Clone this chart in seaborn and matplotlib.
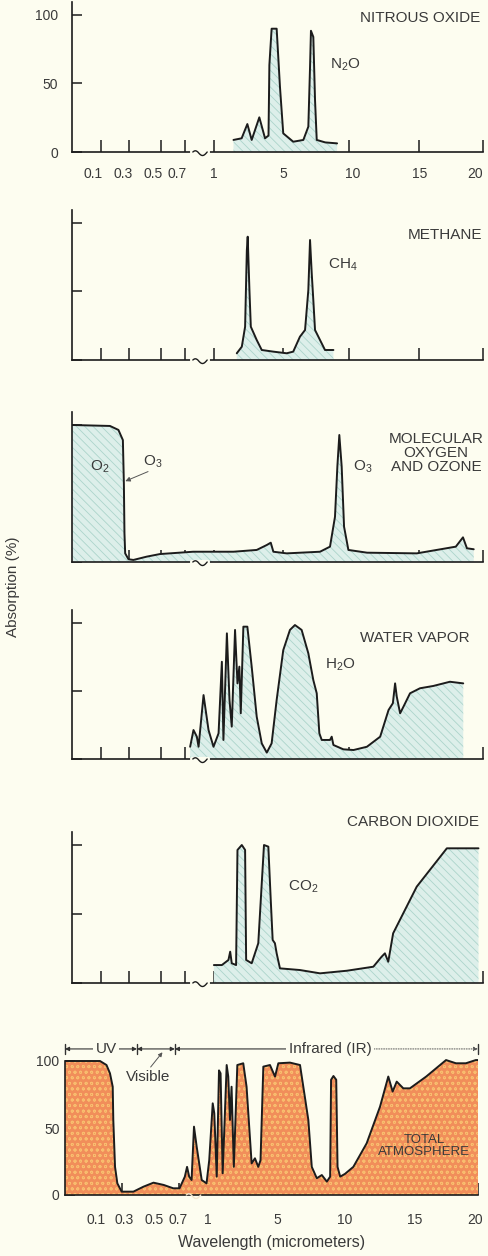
import numpy as np
import pandas as pd
import matplotlib
matplotlib.use("Agg")
import matplotlib.pyplot as plt
import matplotlib.transforms as mtransforms
import seaborn as sns

# ---------------- data (wavelength in micrometers, absorption in %) ----------------
n2o_wl = [2.13, 2.6, 2.93, 3.18, 3.62, 3.95, 4.15, 4.2, 4.33, 4.62, 4.81, 5.0, 5.76, 6.53,
          6.91, 7.04, 7.11, 7.29, 7.42, 7.55, 8.2, 9.1]
n2o_abs = [8.8, 10, 20.4, 8.8, 25.3, 10, 12, 63.5, 90, 90, 47.7, 13.6, 7.5, 8.8,
           18.5, 62, 88.5, 84, 38, 8.8, 7, 6.3]

ch4_wl = [2.32, 2.61, 2.80, 2.90, 2.95, 3.05, 3.13, 3.47, 3.76, 4.43, 5.26, 5.76, 6.27, 6.66,
          6.91, 7.04, 7.17, 7.29, 7.42, 7.8, 8.18, 8.82]
ch4_abs = [4.9, 9.7, 24.3, 80, 90, 51, 24.3, 14.6, 7.3, 6.1, 4.9, 6.1, 17, 21.9,
           51, 87.6, 63, 43.8, 21.9, 14.6, 7.3, 7.3]

o3_wl = [0.0, 0.165, 0.224, 0.255, 0.262, 0.266, 0.271, 0.294, 0.326, 0.411, 0.496, 0.783,
         2.13, 3.47, 4.05, 4.28, 4.43, 5.26, 7.8, 8.56, 8.94, 9.12, 9.27, 9.45, 9.63, 9.96,
         11.3, 14.86, 17.9, 18.46, 18.77, 19.3]
o3_abs = [100, 99.3, 96.4, 89, 57, 21, 6.3, 2, 1.5, 3.9, 5.8, 7.5,
          7.5, 8.8, 12.4, 14.1, 7.5, 6.3, 7.5, 11.2, 33, 69.6, 92.7, 69.6, 25.8, 8.8,
          6.8, 6.3, 11.2, 18, 10, 9.3]

h2o_wl = [0.752, 0.787, 0.822, 0.84, 0.892, 0.944, 0.996, 1.27, 1.46, 1.55, 1.75, 1.9, 2.03,
          2.22, 2.36, 2.47, 2.55, 2.7, 2.93, 3.18, 3.47, 3.76, 4.05, 4.33, 4.62, 5.0, 5.51,
          5.89, 6.4, 6.91, 7.29, 7.55, 7.75, 7.93, 8.56, 8.69, 8.82, 9.58, 10.33, 11.29,
          12.24, 12.84, 13.15, 13.31, 13.43, 13.67, 13.91, 14.38, 15.1, 16.14, 17.44, 18.48]
h2o_abs = [9, 21.3, 16.4, 9, 47, 21.3, 9, 18.9, 71.5, 14, 92.4, 43.4, 23.8,
           94.9, 55.6, 67.9, 33.6, 97.3, 97.3, 67.9, 31.1, 11.5, 4.7, 11.5, 43.4, 80, 94.9,
           98.5, 94.9, 77.7, 58, 48.3, 18.9, 14, 14, 16.4, 10.3, 7.1, 6.6, 9,
           16.4, 36, 41, 55.6, 45.8, 33.6, 38.5, 48.3, 52, 53.7, 56.8, 55.6]

co2_wl = [1.0, 1.46, 1.84, 1.94, 2.03, 2.28, 2.36, 2.61, 2.80, 2.86, 3.18, 3.56, 3.76, 3.89,
          4.14, 4.28, 4.39, 4.52, 4.62, 4.81, 6.27, 7.8, 9.85, 11.75, 12.34, 12.58, 12.82,
          13.17, 14.86, 17.2, 19.67]
co2_abs = [13, 13, 16.7, 22.7, 14.3, 13, 96.4, 100, 96.4, 16.7, 14.3, 28.8, 72.2, 100,
           98.8, 60, 31.2, 28.8, 21.5, 10.6, 9.4, 7, 8.9, 11.8, 19, 21.5, 15.4,
           36, 69.8, 97.6, 97.6]

tot_wl = [0.0, 0.145, 0.19, 0.214, 0.233, 0.237, 0.249, 0.265, 0.295, 0.37,
          0.434, 0.498, 0.58, 0.657, 0.71, 0.765, 0.788, 0.81, 0.835, 0.86,
          0.888, 0.94, 0.99, 1.1, 1.3, 1.39, 1.53, 1.66, 1.75, 1.87,
          2.1, 2.19, 2.29, 2.38, 2.51, 2.71, 3.05, 3.24, 3.53, 3.72,
          3.91, 4.04, 4.2, 4.58, 4.87, 5.08, 5.96, 6.72, 6.97, 7.35,
          7.61, 7.99, 8.37, 8.75, 9.0, 9.07, 9.25, 9.46, 9.56, 9.76,
          10.12, 10.71, 11.66, 12.61, 13.2, 13.51, 13.8, 14.27, 14.74, 15.98,
          17.52, 18.29, 19.06, 19.83, 20.0]
tot_abs = [100, 100, 97, 90.8, 80.8, 56, 21, 8.7, 2.5, 2.5,
           6.2, 9.2, 7.5, 5, 5, 13.7, 21, 13.7, 11.2, 51,
           36, 11.2, 8.7, 26, 68.4, 61, 13.7, 93, 90.8, 16.2,
           97, 88.4, 56, 80.8, 21, 97, 98.3, 80.8, 23.6, 27.4,
           21, 26, 95.8, 97, 88.4, 98.3, 98.8, 97, 80.8, 56,
           21, 12.5, 14.9, 10, 13.7, 86, 88.8, 86, 21, 13.7,
           15.8, 21, 38.6, 65.9, 88.4, 77.2, 84.6, 79.6, 79.6, 88.4,
           100.7, 98.3, 98.3, 100.7, 100.7]

tick_values = [0.1, 0.3, 0.5, 0.7, 1, 5, 10, 15, 20]
tick_labels = ["0.1", "0.3", "0.5", "0.7", "1", "5", "10", "15", "20"]
ytick_values = [0, 50, 100]
ytick_labels = ["0", "50", "100"]

# ---------------- piecewise axis scale (break between 0.7 and 1) ----------------
WL_KNOTS = np.array([0.0, 0.1, 0.3, 0.5, 0.7, 1.0, 5.0, 10.0, 15.0, 20.0])
POS_KNOTS = np.array([0.0, 0.069, 0.139, 0.215, 0.275, 0.345, 0.514, 0.674, 0.844, 1.0])


def _pl(x, xs, ys):
    x = np.asarray(x, dtype=float)
    y = np.interp(x, xs, ys)
    s0 = (ys[1] - ys[0]) / (xs[1] - xs[0])
    s1 = (ys[-1] - ys[-2]) / (xs[-1] - xs[-2])
    y = np.where(x < xs[0], ys[0] + (x - xs[0]) * s0, y)
    y = np.where(x > xs[-1], ys[-1] + (x - xs[-1]) * s1, y)
    return y


def fwd(x):
    return _pl(x, WL_KNOTS, POS_KNOTS)


def inv(p):
    return _pl(p, POS_KNOTS, WL_KNOTS)


# ---------------- style ----------------
sns.set_theme(style="white")
BG = "#fdfdf0"
TXT = "#3a3a3a"
LINE = "#1c1c1c"
plt.rcParams["font.family"] = ["Liberation Sans", "DejaVu Sans"]
plt.rcParams["mathtext.default"] = "regular"
plt.rcParams["hatch.linewidth"] = 0.6

FIG_W, FIG_H = 488, 1256
fig = plt.figure(figsize=(FIG_W / 100, FIG_H / 100), dpi=100, facecolor=BG)

TEAL = "#ddefea"
TEAL_H = "#acd4cb"
ORANGE = "#f18e5a"
ORANGE_H = "#f8bd6e"

# per-label horizontal nudges (pixels) to match the original lettering
top_label_shift = [-8, -6, -7, -8, 0, 0, 4, 1, -8]
bot_label_shift = [3, 2, 0, 0, 0, 0, 1, 1, -3]

panels = [
    dict(wl=n2o_wl, ab=n2o_abs, y0=152, left=72.3, width=410.4, ppu=1.37, xlab=True),
    dict(wl=ch4_wl, ab=ch4_abs, y0=360, left=72.3, width=410.4, ppu=1.37, xlab=False),
    dict(wl=o3_wl, ab=o3_abs, y0=562, left=72.3, width=410.4, ppu=1.37, xlab=False),
    dict(wl=h2o_wl, ab=h2o_abs, y0=759, left=72.3, width=410.4, ppu=1.36, xlab=False),
    dict(wl=co2_wl, ab=co2_abs, y0=983, left=72.3, width=410.4, ppu=1.38, xlab=False),
    dict(wl=tot_wl, ab=tot_abs, y0=1195, left=65, width=413, ppu=1.34, xlab=True),
]

axes = []
for i, p in enumerate(panels):
    ytop = 110.0 if i == 5 else 109.5
    h = ytop * p["ppu"]
    ax = fig.add_axes([p["left"] / FIG_W, 1 - p["y0"] / FIG_H, p["width"] / FIG_W, h / FIG_H])
    ax.set_facecolor(BG)
    ax.patch.set_alpha(0)
    ax.set_xscale("function", functions=(fwd, inv))
    df = pd.DataFrame({"wl": p["wl"], "ab": p["ab"]})
    if i == 5:
        ax.fill_between(df["wl"], 0, df["ab"], facecolor=ORANGE, edgecolor=ORANGE_H,
                        hatch="ooo", linewidth=0, zorder=1)
    else:
        ax.fill_between(df["wl"], 0, df["ab"], facecolor=TEAL, edgecolor=TEAL_H,
                        hatch="\\\\\\\\", linewidth=0, zorder=1)
    sns.lineplot(data=df, x="wl", y="ab", ax=ax, sort=False, estimator=None,
                 color=LINE, linewidth=1.4, zorder=3)
    ax.set_xlabel("")
    ax.set_ylabel("")
    ax.set_xlim(0, 20)
    ax.set_ylim(0, ytop)
    for s in ["top", "right"]:
        ax.spines[s].set_visible(False)
    for s in ["left", "bottom"]:
        ax.spines[s].set_color(LINE)
        ax.spines[s].set_linewidth(1.2)
    if i == 5:
        ax.spines["left"].set_bounds(0, 100)
    ax.set_xticks(tick_values)
    ax.set_yticks(ytick_values)
    ax.minorticks_off()
    ax.tick_params(axis="x", bottom=True, direction="in", length=9, width=1.1, color=LINE,
                   pad=(13 if i == 5 else 11), labelsize=10, labelcolor=TXT)
    ax.tick_params(axis="y", left=True, direction="in", length=7, width=1.1, color=LINE,
                   pad=(4 if i == 5 else 10), labelsize=10, labelcolor=TXT)
    if p["xlab"]:
        ax.set_xticklabels(tick_labels)
    else:
        ax.set_xticklabels([])
    if i in (0, 5):
        ax.set_yticklabels(ytick_labels)
    else:
        ax.set_yticklabels([])

    # axis break squiggle between 0.7 and 1
    u = 1.0 / p["ppu"]
    t = np.linspace(0, 1, 40)
    sx = 0.78 + (0.93 - 0.78) * t
    sy = np.where(t < 0.35, 1.2 * u * np.sin(np.pi * t / 0.35),
                  -3.5 * u * np.sin(np.pi * (t - 0.35) / 0.65))
    if i != 5:
        ax.plot([0.775, 0.935], [0, 0], color=BG, linewidth=3, zorder=4, clip_on=False)
        ax.plot(sx, sy, color=LINE, linewidth=1.0, zorder=5, clip_on=False)
    else:
        ax.plot(sx, sy, color="#f3e6d0", linewidth=1.0, zorder=5, clip_on=False)
    axes.append(ax)

txt_kw = dict(fontsize=11, color=TXT)

a1, a2, a3, a4, a5, a6 = axes
a1.text(19.8, 97.8, "NITROUS OXIDE", ha="right", va="center", **txt_kw)
a1.text(8.56, 63.5, "N$_2$O", ha="left", va="center", **txt_kw)

a2.text(20.0, 91.2, "METHANE", ha="right", va="center", **txt_kw)
a2.text(8.4, 69.3, "CH$_4$", ha="left", va="center", **txt_kw)

a3.text(16.35, 79.6, "MOLECULAR\nOXYGEN\nAND OZONE", ha="center", va="center",
        multialignment="center", linespacing=1.0, **txt_kw)
a3.text(0.097, 69.3, "O$_2$", ha="center", va="center", **txt_kw)
a3.text(0.451, 73, "O$_3$", ha="center", va="center", **txt_kw)
a3.text(11.0, 69.3, "O$_3$", ha="center", va="center", **txt_kw)
a3.annotate("", xy=(0.272, 59), xytext=(0.42, 66),
            arrowprops=dict(arrowstyle="-|>", color="#555555", lw=0.7,
                            mutation_scale=7, shrinkA=0, shrinkB=0))

a4.text(14.73, 89, "WATER VAPOR", ha="center", va="center", **txt_kw)
a4.text(8.18, 69, "H$_2$O", ha="left", va="center", **txt_kw)

a5.text(19.7, 116.7, "CARBON DIOXIDE", ha="right", va="center", clip_on=False, **txt_kw)
a5.text(5.36, 69.6, "CO$_2$", ha="left", va="center", **txt_kw)

# bottom panel annotations
a6.text(15.8, 36.2, "TOTAL\nATMOSPHERE", ha="center", va="center",
        multialignment="center", linespacing=1.0, fontsize=9.5, color=TXT)
row = 109.0
seps = [0.0, 0.393, 0.67, 20.0]
for sx_ in seps:
    a6.plot([sx_, sx_], [row - 3.5, row + 3.5], color="#333333", linewidth=1.0,
            clip_on=False, zorder=5)
arrow_kw = dict(color="#333333", lw=0.8, mutation_scale=6, shrinkA=0, shrinkB=0)
for xa, xb in zip(seps[:2], seps[1:3]):
    a6.annotate("", xy=(xb, row), xytext=(xa, row),
                arrowprops=dict(arrowstyle="<|-|>", **arrow_kw), annotation_clip=False)
a6.annotate("", xy=(0.67, row), xytext=(9.0, row),
            arrowprops=dict(arrowstyle="-|>", **arrow_kw), annotation_clip=False)
a6.annotate("", xy=(20.0, row), xytext=(9.0, row),
            arrowprops=dict(arrowstyle="-|>", linestyle=(0, (1, 1.5)), color="#555555",
                            lw=0.7, mutation_scale=6, shrinkA=0, shrinkB=0),
            annotation_clip=False)
a6.text(0.187, row, "UV", ha="center", va="center",
        bbox=dict(boxstyle="square,pad=0.15", facecolor=BG, edgecolor="none"), **txt_kw)
a6.text(9.0, row, "Infrared (IR)", ha="center", va="center",
        bbox=dict(boxstyle="square,pad=0.15", facecolor=BG, edgecolor="none"), **txt_kw)
a6.text(0.463, 88, "Visible", ha="center", va="center", **txt_kw)
a6.annotate("", xy=(0.57, 106.5), xytext=(0.48, 95.5),
            arrowprops=dict(arrowstyle="-|>", color="#555555", lw=0.7,
                            mutation_scale=6, shrinkA=0, shrinkB=0),
            annotation_clip=False)
a6.set_xlabel("Wavelength (micrometers)", fontsize=11.5, color=TXT, labelpad=6)

fig.text(13 / FIG_W, 1 - 587 / FIG_H, "Absorption (%)", rotation=90, ha="center",
         va="center", fontsize=11, color=TXT)

# nudge tick labels horizontally
for ax, shifts in ((a1, top_label_shift), (a6, bot_label_shift)):
    for lab, dx in zip(ax.get_xticklabels(), shifts):
        off = mtransforms.ScaledTranslation(dx / 100.0, 0, fig.dpi_scale_trans)
        lab.set_transform(lab.get_transform() + off)

fig.savefig("out.png", dpi=100, facecolor=BG)
